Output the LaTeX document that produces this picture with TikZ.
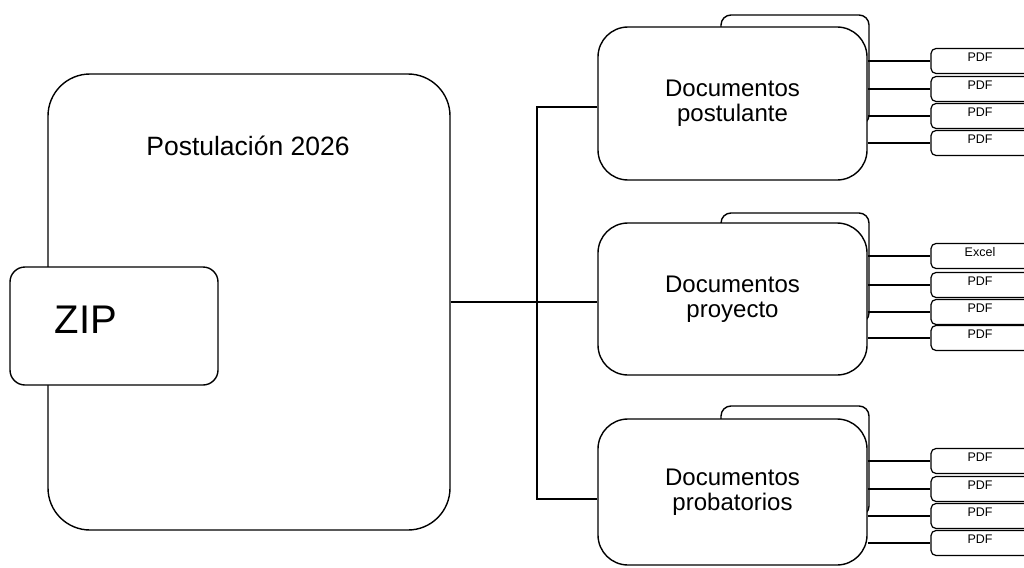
\documentclass[tikz,border=0pt]{standalone}
\usepackage{fontspec}
\setmainfont{Liberation Sans}
\begin{document}
\begin{tikzpicture}[x=1pt,y=-1pt,
  line width=1.4pt,
  bigbox/.style={draw, fill=white, rounded corners=42pt, inner sep=0pt},
  zipbox/.style={draw, fill=white, rounded corners=15pt, inner sep=0pt},
  backbox/.style={draw, fill=white, rounded corners=10pt, inner sep=0pt, minimum width=148pt, minimum height=110pt},
  frontbox/.style={draw, fill=white, rounded corners=30pt, inner sep=0pt, minimum width=269pt, align=center,
    font=\fontsize{24}{25}\selectfont},
  filebox/.style={draw, fill=white, rounded corners=5pt, inner sep=0pt, minimum width=110pt, minimum height=25pt, line width=1.2pt},
  filelabel/.style={inner sep=0pt, font=\fontsize{12.5}{13}\selectfont},
  conn/.style={line width=1.3pt}
]
\clip (0,0) rectangle (1024,567);
\fill[white] (0,0) rectangle (1024,567);

% main box
\node[bigbox, minimum width=402pt, minimum height=456pt] (main) at (249,302) {};
\node[inner sep=0pt, anchor=base, font=\fontsize{26.5}{28}\selectfont] (title) at (248,155) {Postulación 2026};
\node[zipbox, minimum width=208pt, minimum height=118pt] (zip) at (114,326) {};
\node[inner sep=0pt, anchor=base west, font=\fontsize{40}{42}\selectfont] (ziptxt) at (54,333) {ZIP};

% group 1
\node[backbox] (b1) at (795,70) {};
\node[frontbox, minimum height=153pt] (f1) at (732.5,103.5) {Documentos\\postulante};
% group 2
\node[backbox] (b2) at (795,268) {};
\node[frontbox, minimum height=152pt] (f2) at (732.5,299) {Documentos\\proyecto};
% group 3
\node[backbox] (b3) at (795,461) {};
\node[frontbox, minimum height=146pt] (f3) at (732.5,492) {Documentos\\probatorios};

% trunk
\coordinate (t1) at (537,107);
\coordinate (t3) at (537,499);
\draw[conn] (main.east) -- (main.east -| f2.west);
\draw[conn] (t1 -| f1.west) -- (t1) -- (t3) -- (t3 -| f3.west);

% file boxes
\foreach \g/\ya/\yb/\yc/\yd in {1/61/89/116/143, 2/256/285/312/338, 3/461/489/516/543}{
  \node[filebox] (p\g a) at (986,\ya) {};
  \node[filebox] (p\g b) at (986,\yb) {};
  \node[filebox] (p\g c) at (986,\yc) {};
  \node[filebox] (p\g d) at (986,\yd) {};
  \foreach \k in {a,b,c,d}{
    \draw[conn] (p\g\k.west -| f\g.east) -- (p\g\k.west);
  }
}
\foreach \g in {1,2,3}{
  \foreach \k in {a,b,c,d}{
    \node[filelabel, anchor=north] (l\g\k) at ([xshift=-6pt,yshift=-4pt]p\g\k.north) {\ifnum\g=2 \if\k a Excel\else PDF\fi\else PDF\fi};
  }
}
\end{tikzpicture}
\end{document}
